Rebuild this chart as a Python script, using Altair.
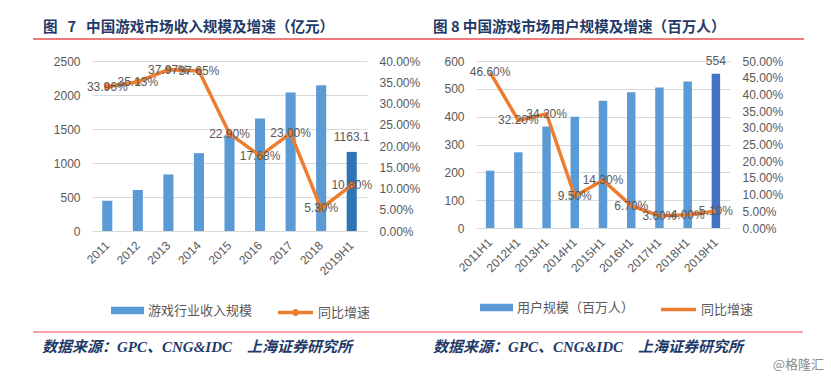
import altair as alt
import pandas as pd

# ---------------- data ----------------
rev_years = ["2011", "2012", "2013", "2014", "2015", "2016", "2017", "2018", "2019H1"]
rev_values = [446.1, 602.8, 831.7, 1144.8, 1407.0, 1655.7, 2036.1, 2144.4, 1163.1]
rev_growth = [0.3396, 0.3513, 0.3797, 0.3765, 0.2290, 0.1768, 0.2300, 0.0530, 0.1080]

user_years = ["2011H1", "2012H1", "2013H1", "2014H1", "2015H1", "2016H1", "2017H1", "2018H1", "2019H1"]
user_values = [206, 272, 365, 400, 457, 488, 505, 526, 554]
user_growth = [0.4660, 0.3220, 0.3420, 0.0950, 0.1430, 0.0670, 0.0360, 0.0400, 0.0510]

rev_ticks = [0, 500, 1000, 1500, 2000, 2500]
rev_pct_ticks = [0, 0.05, 0.10, 0.15, 0.20, 0.25, 0.30, 0.35, 0.40]
user_ticks = [0, 100, 200, 300, 400, 500, 600]
user_pct_ticks = [0, 0.05, 0.10, 0.15, 0.20, 0.25, 0.30, 0.35, 0.40, 0.45, 0.50]

title_left = "图\u00a0\u00a0\u00a07\u00a0\u00a0\u00a0中国游戏市场收入规模及增速（亿元）"
title_right = "图 8 中国游戏市场用户规模及增速（百万人）"
bar_name_left = "游戏行业收入规模"
bar_name_right = "用户规模（百万人）"
line_name = "同比增速"
source_text = "数据来源：GPC、CNG&IDC　上海证券研究所"
watermark = "@格隆汇"

# ---------------- styles ----------------
GRAY = "#595959"
ORANGE = "#ED7D31"
BLUE = "#5B9BD5"
NAVY = "#1F3A68"
NUM_FONT = "Liberation Sans"
CJK_FONT = "Noto Sans CJK SC"


def one(v):
    return pd.DataFrame({"t": [v]})


def panel(cats, vals, growth, bar_name, hi_color, bar_ticks, pct_ticks, bar_fmt,
          width, height, pad_inner, with_points, legend_pos, title_txt, title_x,
          source_x, bar_dy, extra_layers):
    df = pd.DataFrame({
        "cat": cats,
        "value": vals,
        "growth": growth,
        "bar_series": [bar_name] * len(cats),
        "line_series": [line_name] * len(cats),
    })
    xenc = alt.X(
        "cat:N", sort=cats,
        scale=alt.Scale(paddingInner=pad_inner, paddingOuter=pad_inner / 2),
        axis=alt.Axis(labelAngle=-45, labelAlign="right", labelBaseline="middle",
                      labelPadding=12, domain=False, ticks=False, labelColor=GRAY,
                      labelFontSize=12, labelFont=NUM_FONT, title=None),
    )
    base = alt.Chart(df).encode(x=xenc)

    ybar_scale = alt.Scale(domain=[bar_ticks[0], bar_ticks[-1]])
    ybar_axis = alt.Axis(values=bar_ticks, format="d", grid=True, gridColor="#D9D9D9",
                         domain=False, ticks=False, labelColor=GRAY,
                         labelFontSize=12, labelFont=NUM_FONT, labelPadding=12,
                         title=None)
    bars = base.mark_bar().encode(
        y=alt.Y("value:Q", scale=ybar_scale, axis=ybar_axis),
        fill=alt.condition(
            f"datum.cat == '{cats[-1]}'",
            alt.value(hi_color),
            alt.Fill("bar_series:N",
                     scale=alt.Scale(domain=[bar_name], range=[BLUE]),
                     legend=alt.Legend(title=None, orient="none",
                                       legendX=legend_pos[0], legendY=legend_pos[1],
                                       direction="horizontal", padding=0,
                                       symbolType="M-1,-0.22H1V0.22H-1Z",
                                       symbolSize=1089, symbolStrokeWidth=0,
                                       labelFontSize=13, labelColor=GRAY,
                                       labelFont=CJK_FONT, labelOffset=4)),
        ),
    )
    bar_label = base.transform_filter(f"datum.cat == '{cats[-1]}'").mark_text(
        dy=bar_dy, fontSize=12, font=NUM_FONT, color=GRAY
    ).encode(
        y=alt.Y("value:Q", scale=ybar_scale, axis=ybar_axis),
        text=alt.Text("value:Q", format=bar_fmt),
    )
    bar_layer = alt.layer(bars, bar_label)

    ypct_scale = alt.Scale(domain=[pct_ticks[0], pct_ticks[-1]])
    ypct_axis = alt.Axis(orient="right", values=pct_ticks, format=".2%",
                         grid=False, domain=False, ticks=False,
                         labelColor=GRAY, labelFontSize=12, labelFont=NUM_FONT,
                         labelPadding=12, title=None)
    if with_points:
        sym = "M-1,0H1M-0.1,0A0.1,0.1,0,1,0,0.1,0A0.1,0.1,0,1,0,-0.1,0"
    else:
        sym = "stroke"
    line = base.mark_line(strokeWidth=3.5).encode(
        y=alt.Y("growth:Q", scale=ypct_scale, axis=ypct_axis),
        stroke=alt.Stroke("line_series:N",
                          scale=alt.Scale(domain=[line_name], range=[ORANGE]),
                          legend=alt.Legend(title=None, orient="none",
                                            legendX=legend_pos[2], legendY=legend_pos[3],
                                            direction="horizontal", padding=0,
                                            symbolType=sym, symbolSize=1225,
                                            symbolStrokeWidth=3.5,
                                            labelFontSize=13, labelColor=GRAY,
                                            labelFont=CJK_FONT, labelOffset=3)),
    )
    line_parts = [line]
    if with_points:
        line_parts.append(base.mark_circle(size=45, color=ORANGE, opacity=1).encode(
            y=alt.Y("growth:Q", scale=ypct_scale, axis=ypct_axis)))
    line_parts.append(base.mark_text(fontSize=12, font=NUM_FONT, color=GRAY).encode(
        y=alt.Y("growth:Q", scale=ypct_scale, axis=ypct_axis),
        text=alt.Text("growth:Q", format=".2%"),
    ))
    line_layer = alt.layer(*line_parts)

    title_mark = alt.Chart(one(title_txt)).mark_text(
        align="left", baseline="middle", fontSize=14.6, fontWeight="bold",
        font=CJK_FONT, color=NAVY
    ).encode(text="t:N", x=alt.value(title_x), y=alt.value(-33))
    source_mark = alt.Chart(one(source_text)).mark_text(
        align="left", baseline="middle", fontSize=15, fontWeight="bold",
        fontStyle="italic", font=f"Liberation Serif, {CJK_FONT}", color=NAVY
    ).encode(text="t:N", x=alt.value(source_x), y=alt.value(286))

    layers = [bar_layer, line_layer, title_mark, source_mark] + extra_layers
    return alt.layer(*layers).resolve_scale(y="independent").properties(
        width=width, height=height)


red_top = alt.Chart(one("top")).mark_rule(color="#E65050", strokeWidth=1.5).encode(
    x=alt.value(-59), x2=alt.value(712), y=alt.value(-22))
red_bottom = alt.Chart(one("bottom")).mark_rule(color="#F08585", strokeWidth=1.5).encode(
    x=alt.value(-59), x2=alt.value(711), y=alt.value(271))
wm = alt.Chart(one(watermark)).mark_text(
    align="right", baseline="middle", fontSize=13, font=CJK_FONT, color="#8C8C8C"
).encode(text="t:N", x=alt.value(348), y=alt.value(304))

left = panel(rev_years, rev_values, rev_growth, bar_name_left, "#2E75B6",
             rev_ticks, rev_pct_ticks, ".1f", 275, 170, 0.67, True,
             (19, 233, 184, 232), title_left, -49, -50, -15, [red_top, red_bottom])
right = panel(user_years, user_values, user_growth, bar_name_right, "#4472C4",
              user_ticks, user_pct_ticks, "d", 254, 167, 0.70, False,
              (4, 230, 183, 229), title_right, -43, -43, -13, [wm])

chart = alt.hconcat(left, right, spacing=109, bounds="flush").resolve_scale(
    fill="independent", stroke="independent"
).resolve_legend(fill="independent", stroke="independent").properties(
    padding={"left": 32, "top": 20, "right": 5, "bottom": 5},
    background="white",
).configure_view(stroke=None)

chart.save("out.html", embed_options={"renderer": "svg", "actions": False})
